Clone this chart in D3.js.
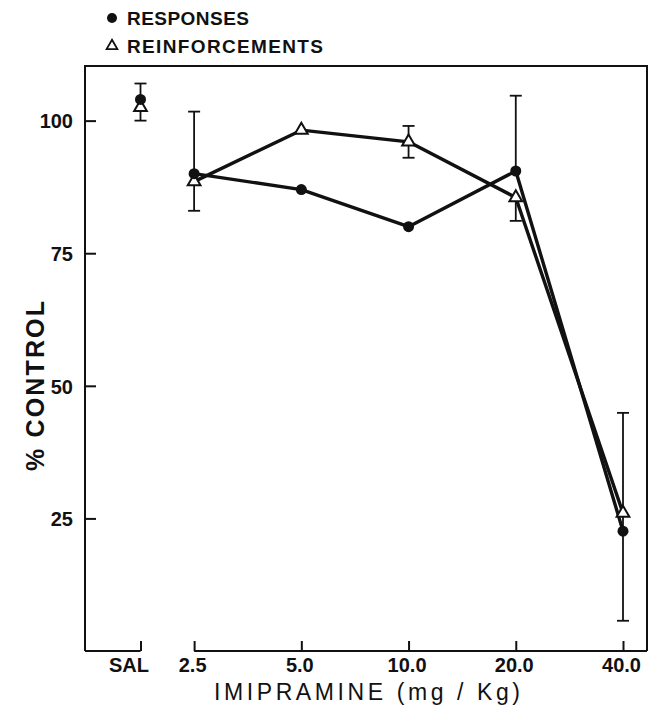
<!DOCTYPE html>
<html>
<head>
  <meta charset="utf-8">
  <title>Imipramine % control</title>
  <style>
    body { margin: 0; background: #fff; }
    svg { display: block; }
    text { font-family: "Liberation Sans", "DejaVu Sans", sans-serif; fill: #111; }
  </style>
</head>
<body>
  <svg id="canvas"></svg>
  <script src="https://cdn.jsdelivr.net/npm/d3@7"></script>
  <script>
    // dose categories; SAL sits half a step left of the dose series
    const doseLabels = ["SAL", "2.5", "5.0", "10.0", "20.0", "40.0"];
    const doseIndex = [-0.5, 0, 1, 2, 3, 4];

    // % control
    const responses = [104, 90, 87, 80, 90.5, 22.6];
    const reinforcements = [102.5, 88.5, 98.2, 96, 85.5, 26];

    // error bars: [dose index, low, high, capLow, capHigh]
    const errorBars = [
      [-0.5, 100, 107, true, true],
      [0, 83, 101.7, true, true],
      [2, 93, 99, true, true],
      [3, 90.5, 104.7, false, true],
      [3, 81.1, 85.5, true, false],
      [4, 5.7, 44.9, true, true]
    ];

    const yTicks = [25, 50, 75, 100];

    const W = 652, H = 711;
    const frame = { left: 85, right: 647, top: 66, bottom: 651 };

    const svg = d3.select("#canvas").attr("width", W).attr("height", H);

    const x = d3.scaleLinear().domain([-0.5, 4]).range([140.5, 623]);
    const y = d3.scaleLinear().domain([0, 110.3]).range([frame.bottom, frame.top]);

    // frame: left, top, right, split bottom
    const fr = svg.append("g").attr("stroke", "#111").attr("stroke-width", 2).attr("fill", "none");
    fr.append("path").attr("d",
      "M" + frame.left + "," + frame.bottom + "V" + frame.top + "H" + frame.right + "V" + frame.bottom);
    fr.append("line").attr("x1", frame.left).attr("x2", x(-0.5)).attr("y1", frame.bottom).attr("y2", frame.bottom);
    fr.append("line").attr("x1", x(0)).attr("x2", frame.right).attr("y1", frame.bottom).attr("y2", frame.bottom);

    // y axis
    const ya = svg.append("g")
      .attr("transform", "translate(" + frame.left + ",0)")
      .call(d3.axisLeft(y).tickValues(yTicks).tickSize(-11).tickPadding(12).tickSizeOuter(0));
    ya.select(".domain").remove();
    ya.selectAll("line").attr("stroke", "#111").attr("stroke-width", 2);
    ya.selectAll("text").attr("font-size", 20).attr("font-weight", "bold").attr("dy", "0.36em");

    // x axis
    const xa = svg.append("g")
      .attr("transform", "translate(0," + frame.bottom + ")")
      .call(d3.axisBottom(x).tickValues(doseIndex).tickFormat((d, i) => doseLabels[i])
        .tickSize(-10).tickPadding(7).tickSizeOuter(0));
    xa.select(".domain").remove();
    xa.selectAll("line").attr("stroke", "#111").attr("stroke-width", 2);
    xa.selectAll("text").attr("font-size", 20).attr("font-weight", "bold").attr("dy", "0.72em")
      .attr("dx", (d, i) => i === 0 ? -12 : -2);

    // axis titles
    svg.append("text")
      .attr("x", 367).attr("y", 700)
      .attr("text-anchor", "middle")
      .attr("font-size", 23)
      .attr("textLength", 306).attr("lengthAdjust", "spacing")
      .text("IMIPRAMINE (mg / Kg)");

    svg.append("text")
      .attr("transform", "translate(44,386) rotate(-90)")
      .attr("text-anchor", "middle")
      .attr("font-size", 25).attr("font-weight", "bold")
      .attr("textLength", 170).attr("lengthAdjust", "spacing")
      .text("% CONTROL");

    // error bars
    const eb = svg.append("g").attr("stroke", "#111").attr("stroke-width", 1.8);
    errorBars.forEach(([i, lo, hi, capLo, capHi]) => {
      const cx = x(i);
      eb.append("line").attr("x1", cx).attr("x2", cx).attr("y1", y(lo)).attr("y2", y(hi));
      if (capLo) eb.append("line").attr("x1", cx - 6).attr("x2", cx + 6).attr("y1", y(lo)).attr("y2", y(lo));
      if (capHi) eb.append("line").attr("x1", cx - 6).attr("x2", cx + 6).attr("y1", y(hi)).attr("y2", y(hi));
    });

    // series lines (doses only, SAL not connected)
    const line = d3.line().x(d => x(d[0])).y(d => y(d[1]));
    const seriesPts = vals => doseIndex.map((d, i) => [d, vals[i]]);
    [responses, reinforcements].forEach(vals => {
      svg.append("path")
        .datum(seriesPts(vals).slice(1))
        .attr("d", line)
        .attr("fill", "none").attr("stroke", "#111").attr("stroke-width", 3.4)
        .attr("stroke-linejoin", "round");
    });

    const tri = d3.symbol().type(d3.symbolTriangle).size(70);

    svg.append("g").selectAll("path")
      .data(seriesPts(reinforcements))
      .enter().append("path")
      .attr("d", tri)
      .attr("transform", d => "translate(" + x(d[0]) + "," + y(d[1]) + ")")
      .attr("fill", "#fff").attr("stroke", "#111").attr("stroke-width", 2);

    svg.append("g").selectAll("circle")
      .data(seriesPts(responses))
      .enter().append("circle")
      .attr("cx", d => x(d[0])).attr("cy", d => y(d[1]))
      .attr("r", 5.5).attr("fill", "#111");

    // legend
    const lg = svg.append("g");
    lg.append("circle").attr("cx", 112).attr("cy", 18).attr("r", 5).attr("fill", "#111");
    lg.append("text").attr("x", 127).attr("y", 25).attr("font-size", 19).attr("font-weight", "bold")
      .attr("textLength", 122).attr("lengthAdjust", "spacing").text("RESPONSES");
    lg.append("path").attr("d", d3.symbol().type(d3.symbolTriangle).size(50))
      .attr("transform", "translate(112,46)")
      .attr("fill", "#fff").attr("stroke", "#111").attr("stroke-width", 1.8);
    lg.append("text").attr("x", 127).attr("y", 53).attr("font-size", 19).attr("font-weight", "bold")
      .attr("textLength", 196).attr("lengthAdjust", "spacing").text("REINFORCEMENTS");
  </script>
</body>
</html>
